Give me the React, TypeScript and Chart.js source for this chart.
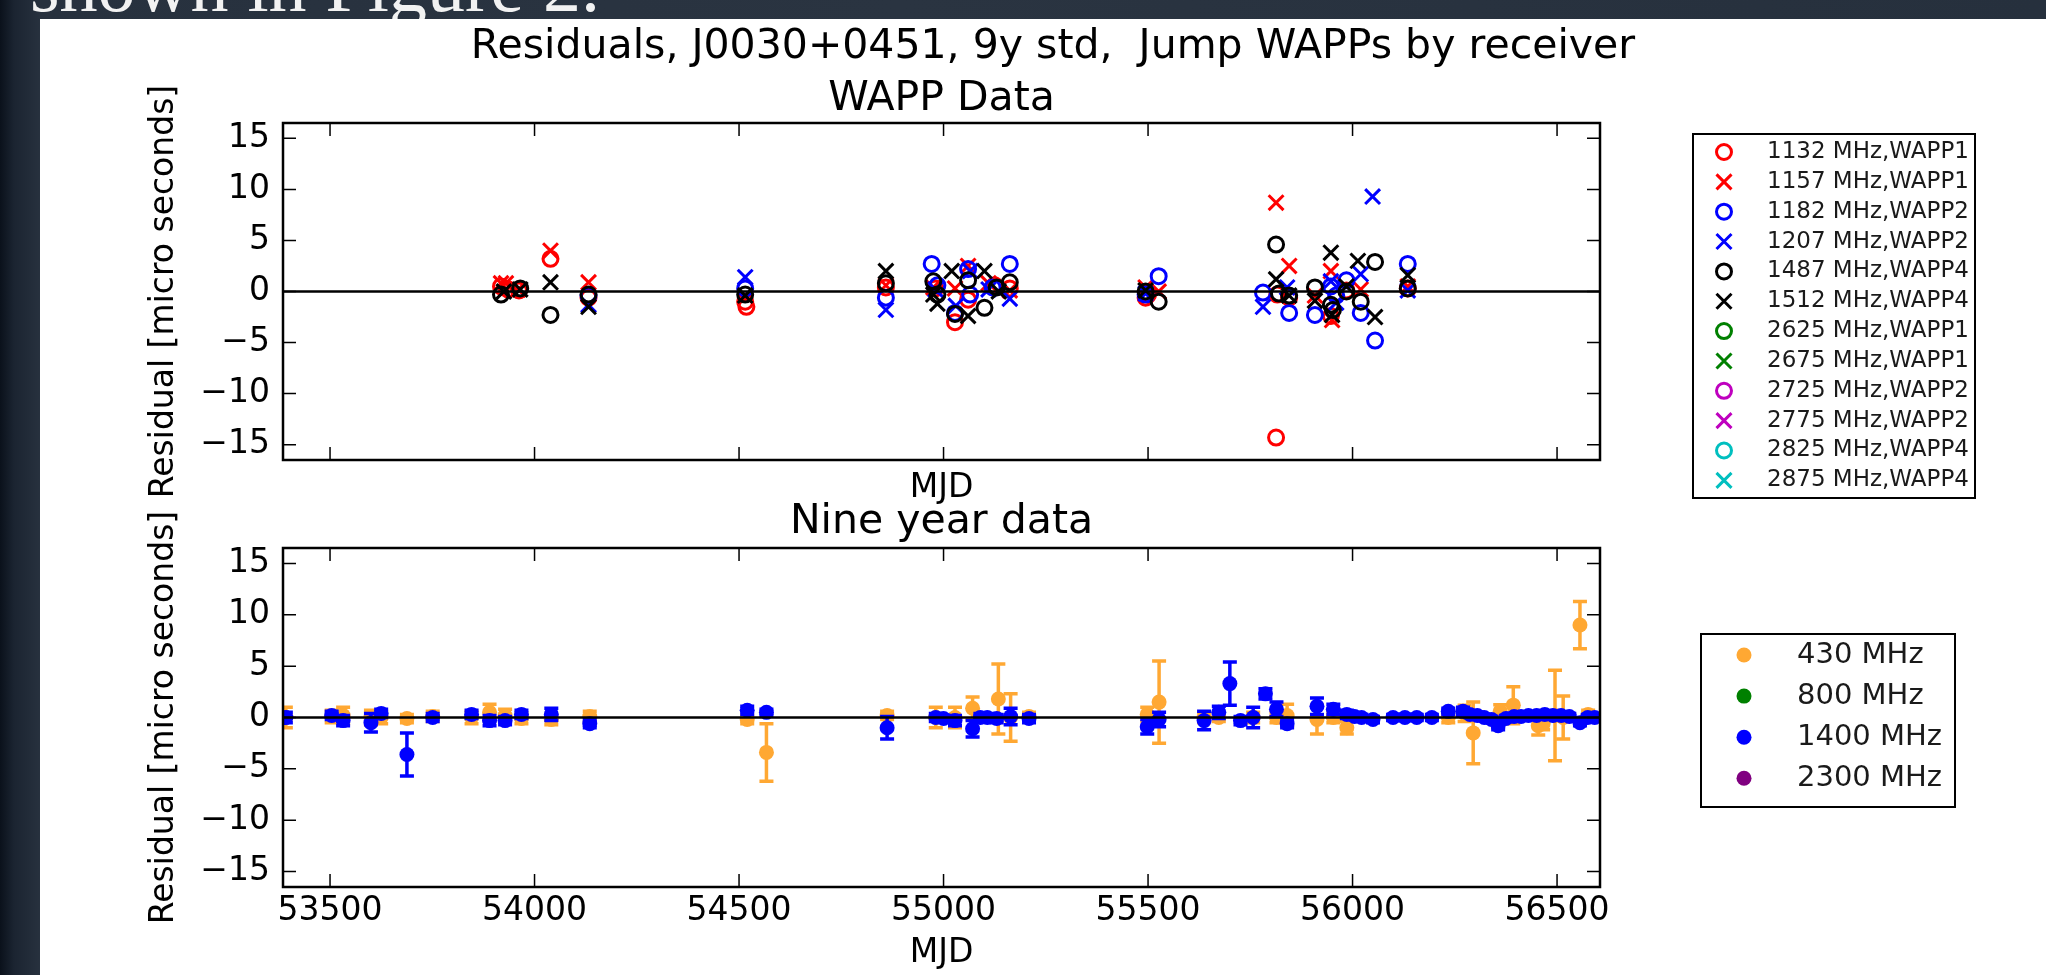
import React, { useEffect, useRef } from 'react';
import { Chart, registerables } from 'chart.js';

Chart.register(...registerables);

const FAMILY = '"DejaVu Sans", "Noto Sans", sans-serif';

// ---------- axes ----------
const X_MIN = 53385;
const X_MAX = 56605;
const Y_MIN = -16.5;
const Y_MAX = 16.5;
const xTickValues = [53500, 54000, 54500, 55000, 55500, 56000, 56500];
const yTickValues = [-15, -10, -5, 0, 5, 10, 15];

// ---------- top panel: WAPP data ----------
const wappLabels = [
  '1132 MHz,WAPP1', '1157 MHz,WAPP1', '1182 MHz,WAPP2', '1207 MHz,WAPP2',
  '1487 MHz,WAPP4', '1512 MHz,WAPP4', '2625 MHz,WAPP1', '2675 MHz,WAPP1',
  '2725 MHz,WAPP2', '2775 MHz,WAPP2', '2825 MHz,WAPP4', '2875 MHz,WAPP4',
];
const wappColors = [
  '#ff0000', '#ff0000', '#0000ff', '#0000ff', '#000000', '#000000',
  '#008000', '#008000', '#bf00bf', '#bf00bf', '#00bfbf', '#00bfbf',
];
const wappMarkers = ['o', 'x', 'o', 'x', 'o', 'x', 'o', 'x', 'o', 'x', 'o', 'x'];

const mjd1132 = [53918, 53935, 53962, 54039, 54132, 54515, 54518, 54859, 54980, 55028, 55060, 55125, 55162, 55494, 55500, 55813, 55816, 55845, 55947, 55985, 56135];
const res1132 = [0.5, 0.2, 0.1, 3.2, -0.6, -1.0, -1.5, 0.4, 0.3, -3.0, -0.8, 0.6, 0.3, -0.6, -0.3, -14.3, -0.3, -0.6, -2.4, 0.1, 0.3];

const mjd1157 = [53918, 53930, 53960, 54039, 54132, 54515, 54859, 54975, 55028, 55060, 55110, 55162, 55494, 55526, 55813, 55845, 55908, 55947, 55950, 56020, 56135];
const res1157 = [0.8, 0.8, 0.2, 4.0, 0.9, -0.4, 0.6, 0.4, 0.3, 2.5, 0.8, 0.1, 0.4, 0.0, 8.7, 2.5, -0.4, 2.0, -2.8, 0.2, 0.5];

const mjd1182 = [54132, 54515, 54859, 54971, 54985, 55028, 55060, 55065, 55120, 55162, 55494, 55526, 55781, 55845, 55908, 55947, 55960, 55985, 56020, 56055, 56135];
const res1182 = [-0.4, 0.3, -0.6, 2.7, 0.6, -2.1, 2.2, -0.3, 0.4, 2.7, -0.3, 1.5, -0.1, -2.1, -2.3, 0.5, -0.4, 1.1, -2.1, -4.8, 2.7];

const mjd1207 = [54132, 54515, 54859, 54980, 55030, 55065, 55110, 55162, 55494, 55781, 55840, 55947, 55960, 56020, 56049, 56135];
const res1207 = [-1.3, 1.4, -1.8, 0.2, -1.4, 2.0, 0.2, -0.7, -0.2, -1.5, 0.4, 1.0, -1.1, 1.7, 9.3, 0.1];

const mjd1487 = [53918, 53965, 54039, 54132, 54515, 54859, 54975, 54985, 55028, 55060, 55100, 55130, 55162, 55494, 55526, 55813, 55820, 55845, 55908, 55947, 55952, 55985, 56020, 56055, 56135];
const res1487 = [-0.3, 0.3, -2.3, -0.3, -0.3, 0.8, 1.0, -0.3, -2.2, 1.1, -1.6, 0.4, 0.9, 0.0, -1.0, 4.6, -0.2, -0.4, 0.4, -1.3, -1.8, 0.0, -1.0, 2.9, 0.3];

const mjd1512 = [53925, 53965, 54039, 54132, 54515, 54859, 54975, 54985, 55020, 55060, 55100, 55135, 55494, 55813, 55845, 55908, 55947, 55950, 55985, 56013, 56055, 56135];
const res1512 = [0.0, 0.2, 0.9, -1.5, -0.4, 2.0, -0.3, -1.2, 2.0, -2.4, 2.0, 0.0, 0.1, 1.2, -0.4, -0.9, 3.8, -2.3, 0.5, 3.0, -2.5, 1.6];

const wappMjd = [mjd1132, mjd1157, mjd1182, mjd1207, mjd1487, mjd1512, [], [], [], [], [], []];
const wappRes = [res1132, res1157, res1182, res1207, res1487, res1512, [], [], [], [], [], []];

// ---------- bottom panel: nine year data ----------
const nineLabels = ['430 MHz', '800 MHz', '1400 MHz', '2300 MHz'];
const nineColors = ['#ffa833', '#008000', '#0000ff', '#800080'];

const mjd430 = [53392, 53504, 53532, 53600, 53625, 53688, 53751, 53846, 53890, 53928, 53968, 54041, 54135, 54520, 54567, 54862, 54981, 55028, 55071, 55134, 55164, 55209, 55498, 55527, 55637, 55673, 55757, 55814, 55840, 55913, 55953, 55986, 56234, 56274, 56295, 56361, 56393, 56454, 56466, 56495, 56515, 56556, 56576];
const res430 = [0.0, 0.1, 0.2, 0.0, 0.0, -0.1, 0.1, 0.0, 0.5, 0.2, -0.1, -0.2, 0.1, -0.2, -3.4, 0.2, 0.0, 0.0, 0.9, 1.8, 0.0, 0.1, 0.3, 1.5, 0.0, 0.0, 0.0, 0.0, 0.2, -0.2, 0.0, -1.0, 0.0, 0.4, -1.5, 0.6, 1.2, -0.8, -0.6, 0.2, 0.0, 9.0, 0.3];
const err430 = [1.0, 0.6, 0.8, 0.7, 0.6, 0.4, 0.5, 0.6, 0.8, 0.6, 0.5, 0.5, 0.5, 0.4, 2.8, 0.4, 1.0, 1.0, 1.1, 3.4, 2.3, 0.4, 0.7, 4.0, 0.5, 0.4, 0.5, 0.5, 1.1, 1.4, 0.5, 0.6, 0.5, 0.8, 3.0, 0.65, 1.8, 0.9, 0.6, 4.4, 2.1, 2.3, 0.4];

const mjd1400 = [53392, 53504, 53532, 53600, 53625, 53688, 53751, 53846, 53890, 53928, 53968, 54041, 54135, 54520, 54567, 54862, 54981, 55000, 55028, 55071, 55090, 55107, 55130, 55164, 55209, 55498, 55527, 55637, 55673, 55700, 55726, 55757, 55787, 55814, 55840, 55913, 55953, 55986, 56005, 56022, 56050, 56099, 56128, 56157, 56194, 56234, 56270, 56287, 56305, 56322, 56340, 56356, 56375, 56395, 56412, 56430, 56450, 56470, 56490, 56510, 56530, 56556, 56575, 56592];
const res1400 = [0.0, 0.2, -0.3, -0.5, 0.4, -3.6, 0.0, 0.3, -0.3, -0.3, 0.3, 0.3, -0.6, 0.7, 0.5, -1.0, 0.0, -0.1, -0.3, -1.1, 0.0, 0.0, -0.1, 0.1, -0.1, -0.9, -0.2, -0.3, 0.5, 3.3, -0.3, 0.0, 2.3, 0.8, -0.6, 1.1, 0.8, 0.3, 0.1, 0.0, -0.2, 0.0, 0.0, 0.0, 0.0, 0.6, 0.6, 0.3, 0.2, 0.0, -0.2, -0.8, -0.1, 0.1, 0.1, 0.2, 0.2, 0.3, 0.2, 0.2, 0.1, -0.5, 0.0, 0.0];
const err1400 = [0.5, 0.4, 0.5, 0.9, 0.4, 2.1, 0.4, 0.4, 0.5, 0.4, 0.4, 0.6, 0.4, 0.4, 0.3, 1.1, 0.4, 0.3, 0.5, 0.8, 0.4, 0.4, 0.4, 0.8, 0.4, 0.7, 0.7, 0.9, 0.6, 2.1, 0.4, 1.0, 0.5, 0.7, 0.4, 0.8, 0.5, 0.4, 0.3, 0.3, 0.3, 0.3, 0.3, 0.3, 0.3, 0.3, 0.4, 0.3, 0.3, 0.3, 0.3, 0.4, 0.3, 0.3, 0.3, 0.3, 0.3, 0.3, 0.3, 0.3, 0.3, 0.3, 0.3, 0.3];

const nineMjd = [mjd430, [], mjd1400, []];
const nineRes = [res430, [], res1400, []];
const nineErr = [err430, [], err1400, []];

// ---------- helpers ----------
const fmtY = (v: number) => (v < 0 ? '\u2212' + Math.abs(v) : String(v));

function drawMarker(ctx: CanvasRenderingContext2D, kind: string, x: number, y: number, color: string) {
  ctx.save();
  ctx.strokeStyle = color;
  ctx.fillStyle = color;
  if (kind === 'o') {
    ctx.lineWidth = 3;
    ctx.beginPath();
    ctx.arc(x, y, 7.5, 0, Math.PI * 2);
    ctx.stroke();
  } else if (kind === 'x') {
    ctx.lineWidth = 3;
    const d = 7.5;
    ctx.beginPath();
    ctx.moveTo(x - d, y - d); ctx.lineTo(x + d, y + d);
    ctx.moveTo(x - d, y + d); ctx.lineTo(x + d, y - d);
    ctx.stroke();
  } else {
    ctx.beginPath();
    ctx.arc(x, y, 7.5, 0, Math.PI * 2);
    ctx.fill();
  }
  ctx.restore();
}

function framePlugin() {
  return {
    id: 'frame',
    afterDatasetsDraw(chart: any) {
      const { ctx, chartArea: a, scales } = chart;
      const y0 = scales.y.getPixelForValue(0);
      ctx.save();
      ctx.strokeStyle = '#000';
      ctx.lineWidth = 2.5;
      ctx.beginPath();
      ctx.moveTo(a.left, y0);
      ctx.lineTo(a.right, y0);
      ctx.stroke();
      ctx.restore();
    },
    afterDraw(chart: any) {
      const { ctx, chartArea: a, scales } = chart;
      ctx.save();
      ctx.strokeStyle = '#000';
      ctx.lineWidth = 1.5;
      ctx.beginPath();
      scales.x.ticks.forEach((t: any) => {
        const px = scales.x.getPixelForValue(t.value);
        ctx.moveTo(px, a.bottom); ctx.lineTo(px, a.bottom - 13);
        ctx.moveTo(px, a.top); ctx.lineTo(px, a.top + 13);
      });
      scales.y.ticks.forEach((t: any) => {
        const py = scales.y.getPixelForValue(t.value);
        ctx.moveTo(a.left, py); ctx.lineTo(a.left + 13, py);
        ctx.moveTo(a.right, py); ctx.lineTo(a.right - 13, py);
      });
      ctx.stroke();
      ctx.lineWidth = 2.5;
      ctx.strokeRect(a.left, a.top, a.right - a.left, a.bottom - a.top);
      ctx.restore();
    },
  };
}

function errorBarPlugin() {
  return {
    id: 'errorBars',
    beforeDatasetDraw(chart: any, args: any) {
      const ds = chart.data.datasets[args.index];
      const errs = ds.errors;
      if (!errs || !errs.length) return;
      const { ctx, chartArea: a } = chart;
      const ys = chart.scales.y;
      ctx.save();
      ctx.beginPath();
      ctx.rect(a.left, a.top, a.right - a.left, a.bottom - a.top);
      ctx.clip();
      ctx.strokeStyle = ds.borderColor;
      ctx.lineWidth = 3.5;
      args.meta.data.forEach((el: any, i: number) => {
        const v = ds.data[i].y;
        const e = errs[i];
        const t = ys.getPixelForValue(v + e);
        const b = ys.getPixelForValue(v - e);
        ctx.beginPath();
        ctx.moveTo(el.x, t); ctx.lineTo(el.x, b);
        ctx.moveTo(el.x - 7, t); ctx.lineTo(el.x + 7, t);
        ctx.moveTo(el.x - 7, b); ctx.lineTo(el.x + 7, b);
        ctx.stroke();
      });
      ctx.restore();
    },
  };
}

function textPlugin(items: { text: string; x: number | 'center'; y: number; size: number }[]) {
  return {
    id: 'texts',
    afterDraw(chart: any) {
      const { ctx, chartArea: a } = chart;
      ctx.save();
      ctx.fillStyle = '#000';
      ctx.textAlign = 'center';
      ctx.textBaseline = 'alphabetic';
      items.forEach((it) => {
        ctx.font = `${it.size}px ${FAMILY}`;
        const x = it.x === 'center' ? (a.left + a.right) / 2 : it.x;
        ctx.fillText(it.text, x, it.y);
      });
      ctx.restore();
    },
  };
}

function legendPlugin(cfg: {
  labels: string[]; colors: string[]; markers: string[];
  box: [number, number, number, number]; rowY: number; rowGap: number;
  markerX: number; textX: number; size: number;
}) {
  return {
    id: 'boxLegend',
    afterDraw(chart: any) {
      const { ctx } = chart;
      ctx.save();
      ctx.strokeStyle = '#000';
      ctx.lineWidth = 2;
      ctx.strokeRect(cfg.box[0], cfg.box[1], cfg.box[2], cfg.box[3]);
      ctx.font = `${cfg.size}px ${FAMILY}`;
      ctx.fillStyle = '#1a1a1a';
      ctx.textAlign = 'left';
      ctx.textBaseline = 'middle';
      cfg.labels.forEach((lab, i) => {
        const y = cfg.rowY + i * cfg.rowGap;
        drawMarker(ctx, cfg.markers[i], cfg.markerX, y, cfg.colors[i]);
        ctx.fillText(lab, cfg.textX, y);
      });
      ctx.restore();
    },
  };
}

function xScale(showLabels: boolean, height: number) {
  return {
    type: 'linear',
    position: 'bottom',
    min: X_MIN,
    max: X_MAX,
    afterBuildTicks: (s: any) => { s.ticks = xTickValues.map((v) => ({ value: v })); },
    afterFit: (s: any) => { s.height = height; },
    grid: { display: false, drawTicks: false, tickLength: 0 },
    border: { display: false },
    ticks: {
      display: showLabels, padding: 5, color: '#000', autoSkip: false, maxRotation: 0,
      font: { size: 33, family: FAMILY },
      callback: (v: any) => String(v),
    },
    title: {
      display: true, text: 'MJD', color: '#000',
      font: { size: 33, family: FAMILY }, padding: { top: 0, bottom: 2 },
    },
  };
}

function yScale() {
  return {
    type: 'linear',
    position: 'left',
    min: Y_MIN,
    max: Y_MAX,
    afterBuildTicks: (s: any) => { s.ticks = yTickValues.map((v) => ({ value: v })); },
    afterFit: (s: any) => { s.width = 138; },
    grid: { display: false, drawTicks: false, tickLength: 0 },
    border: { display: false },
    ticks: {
      padding: 13, color: '#000', autoSkip: false,
      font: { size: 33, family: FAMILY },
      callback: (v: any) => fmtY(Number(v)),
    },
    title: {
      display: true, text: 'Residual [micro seconds]', color: '#000',
      font: { size: 33, family: FAMILY }, padding: { top: 0, bottom: 0 },
    },
  };
}

function topConfig(): any {
  const n = wappLabels.length;
  const datasets = wappLabels.map((label, i) => ({
    type: 'scatter',
    label,
    data: wappMjd[i].map((x, j) => ({ x, y: wappRes[i][j] })),
    pointStyle: wappMarkers[i] === 'o' ? 'circle' : 'crossRot',
    pointRadius: wappMarkers[i] === 'o' ? 7.5 : 10.5,
    pointHoverRadius: wappMarkers[i] === 'o' ? 7.5 : 10.5,
    pointBorderWidth: 3,
    borderColor: wappColors[i],
    backgroundColor: 'rgba(0,0,0,0)',
    order: n - i,
  }));
  return {
    type: 'scatter',
    data: { datasets },
    options: {
      animation: false,
      responsive: false,
      devicePixelRatio: 1,
      events: [],
      layout: { padding: { left: 145, right: 446, top: 123, bottom: 0 } },
      plugins: { legend: { display: false }, tooltip: { enabled: false }, title: { display: false } },
      scales: { x: xScale(false, 50), y: yScale() },
    },
    plugins: [
      framePlugin(),
      textPlugin([
        { text: 'Residuals, J0030+0451, 9y std,  Jump WAPPs by receiver', x: 1053, y: 58, size: 41 },
        { text: 'WAPP Data', x: 'center', y: 110, size: 41 },
      ]),
      legendPlugin({
        labels: wappLabels, colors: wappColors, markers: wappMarkers,
        box: [1693, 134, 282, 364], rowY: 152, rowGap: 29.85,
        markerX: 1724, textX: 1767, size: 23,
      }),
    ],
  };
}

function bottomConfig(): any {
  const n = nineLabels.length;
  const datasets = nineLabels.map((label, i) => ({
    type: 'scatter',
    label,
    data: nineMjd[i].map((x, j) => ({ x, y: nineRes[i][j] })),
    errors: nineErr[i],
    pointStyle: 'circle',
    pointRadius: 7.5,
    pointHoverRadius: 7.5,
    pointBorderWidth: 0,
    borderColor: nineColors[i],
    backgroundColor: nineColors[i],
    order: n - i,
    clip: 0,
  }));
  return {
    type: 'scatter',
    data: { datasets },
    options: {
      animation: false,
      responsive: false,
      devicePixelRatio: 1,
      events: [],
      layout: { padding: { left: 145, right: 446, top: 68, bottom: 0 } },
      plugins: { legend: { display: false }, tooltip: { enabled: false }, title: { display: false } },
      scales: { x: xScale(true, 88), y: yScale() },
    },
    plugins: [
      errorBarPlugin(),
      framePlugin(),
      textPlugin([{ text: 'Nine year data', x: 'center', y: 53, size: 41 }]),
      legendPlugin({
        labels: nineLabels, colors: nineColors, markers: ['.', '.', '.', '.'],
        box: [1701, 154, 254, 173], rowY: 175, rowGap: 41.1,
        markerX: 1744, textX: 1797, size: 29,
      }),
    ],
  };
}

export default function App() {
  const topRef = useRef<HTMLCanvasElement>(null);
  const botRef = useRef<HTMLCanvasElement>(null);

  useEffect(() => {
    const c1 = new Chart(topRef.current as HTMLCanvasElement, topConfig());
    const c2 = new Chart(botRef.current as HTMLCanvasElement, bottomConfig());
    return () => {
      c1.destroy();
      c2.destroy();
    };
  }, []);

  return (
    <div
      style={{
        position: 'fixed', left: 0, top: 0, width: 2046, height: 975, overflow: 'hidden',
        background: 'linear-gradient(to right, #0a111b 0px, #1b2431 14px, #27313e 40px, #2a3441 900px, #26303d 2046px)',
      }}
    >
      <div
        style={{
          position: 'absolute', left: 30, top: -53, color: '#f2f2f2',
          font: '76px "Liberation Serif", "DejaVu Serif", serif', lineHeight: 1, whiteSpace: 'nowrap',
        }}
      >
        shown in Figure 2.
      </div>
      <div style={{ position: 'absolute', left: 40, top: 19, right: 0, bottom: 0, background: '#ffffff' }} />
      <canvas
        ref={topRef}
        width={2046}
        height={510}
        style={{ position: 'absolute', left: 0, top: 0, width: 2046, height: 510 }}
      />
      <canvas
        ref={botRef}
        width={2046}
        height={495}
        style={{ position: 'absolute', left: 0, top: 480, width: 2046, height: 495 }}
      />
    </div>
  );
}
